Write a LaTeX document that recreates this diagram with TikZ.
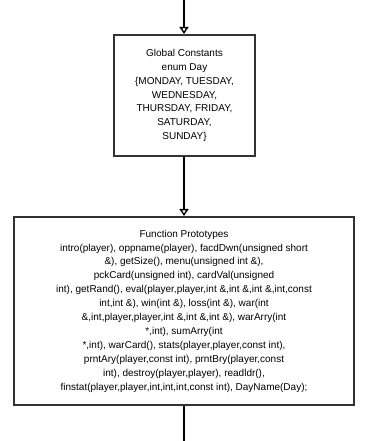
\documentclass[tikz,border=0pt]{standalone}
\usepackage{fontspec}
\setmainfont{Liberation Sans}
\usetikzlibrary{arrows.meta}
\begin{document}
\begin{tikzpicture}[
        x=1bp, y=1bp,
        % 方框樣式:深灰色粗框、白底、文字置中
        block/.style={
            draw=black!80,
            fill=white,
            line width=2bp,
            align=center,
            inner sep=0pt,
            font=\fontsize{10bp}{13.9bp}\selectfont
        },
        % 連線樣式:空心三角形箭頭
        flow/.style={
            draw=black,
            line width=1.8bp,
            -{Triangle[open, length=7bp, width=9bp, line width=1.4bp]}
        },
        plain/.style={
            draw=black,
            line width=1.8bp
        }
    ]

        % 固定畫布大小
        \useasboundingbox (0,0) rectangle (373,441);

        % --- 全域常數 ---
        \node[block, minimum width=141bp, minimum height=121bp] (consts) at (184.5,345.5)
            {Global Constants\\ enum Day\\ \{MONDAY, TUESDAY,\\ WEDNESDAY,\\ THURSDAY, FRIDAY,\\ SATURDAY,\\ SUNDAY\}};

        % --- 函式原型 ---
        \node[block, minimum width=340bp, minimum height=188bp] (protos) at (184,130)
            {Function Prototypes\\
             intro(player), oppname(player), facdDwn(unsigned short\\
             \&), getSize(), menu(unsigned int \&),\\
             pckCard(unsigned int), cardVal(unsigned\\
             int), getRand(), eval(player,player,int \&,int \&,int \&,int,const\\
             int,int \&), win(int \&), loss(int \&), war(int\\
             \&,int,player,player,int \&,int \&,int \&), warArry(int\\
             *,int), sumArry(int\\
             *,int), warCard(), stats(player,player,const int),\\
             prntAry(player,const int), prntBry(player,const\\
             int), destroy(player,player), readldr(),\\
             finstat(player,player,int,int,int,const int), DayName(Day);};

        % 上下兩端的連線
        \coordinate (entry) at (184,441);
        \coordinate (exit) at (184,0);

        \draw[flow] (entry) -- (consts.north -| entry);
        \draw[flow] (consts.south -| protos.north) -- (protos.north);
        \draw[plain] (protos.south) -- (exit);
    \end{tikzpicture}
\end{document}
